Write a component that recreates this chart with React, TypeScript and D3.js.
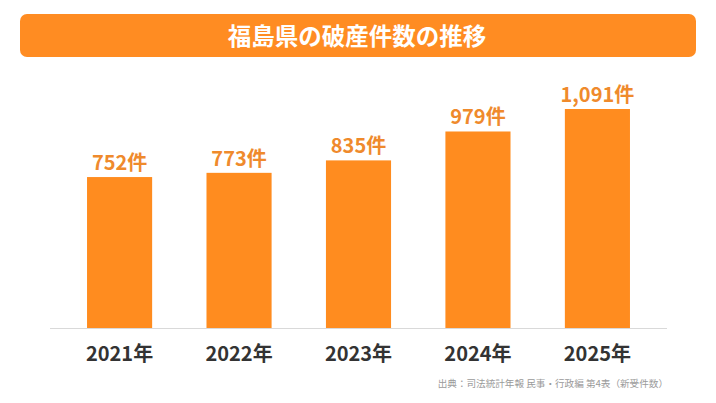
import React from 'react';
import * as d3 from 'd3';

const years = ['2021年', '2022年', '2023年', '2024年', '2025年'];
const counts = [752, 773, 835, 979, 1091];
const titleText = '福島県の破産件数の推移';
const sourceText = '出典：司法統計年報 民事・行政編 第4表（新受件数）';

const W = 716;
const H = 403;
const FONT = '"Noto Sans CJK JP", "Noto Sans", sans-serif';

const App: React.FC = () => {
  const x = d3.scaleBand<string>()
    .domain(years)
    .range([50, 667])
    .paddingInner(0.455)
    .paddingOuter(0.31);

  const y = d3.scaleLinear()
    .domain([0, 1100])
    .range([328, 107.2]);

  const fmt = d3.format(',');

  return (
    <svg
      width={W}
      height={H}
      viewBox={`0 0 ${W} ${H}`}
      style={{ position: 'absolute', left: 0, top: 0, display: 'block', background: '#fff' }}
    >
      {/* title banner */}
      <rect x={20} y={14} width={676} height={43} rx={7} fill="#ff8c22" />
      <text
        x={357}
        y={44.5}
        textAnchor="middle"
        fill="#fff"
        fontFamily={FONT}
        fontWeight={700}
        fontSize={23.5}
      >
        {titleText}
      </text>

      {/* bars */}
      {counts.map((v, i) => (
        <g key={years[i]}>
          <rect
            x={x(years[i])}
            y={y(v)}
            width={x.bandwidth()}
            height={y(0) - y(v)}
            fill="#ff8c1f"
          />
          <text
            x={(x(years[i]) ?? 0) + x.bandwidth() / 2}
            y={y(v) - 7}
            textAnchor="middle"
            fill="#ef8a2c"
            fontFamily={FONT}
            fontWeight={700}
            fontSize={20}
          >
            {fmt(v)}件
          </text>
        </g>
      ))}

      {/* baseline */}
      <line x1={50} x2={667} y1={y(0) + 0.5} y2={y(0) + 0.5} stroke="#d9d9d9" strokeWidth={1} />

      {/* category labels */}
      {years.map(yr => (
        <text
          key={yr}
          x={(x(yr) ?? 0) + x.bandwidth() / 2}
          y={361}
          textAnchor="middle"
          fill="#333"
          fontFamily={FONT}
          fontWeight={700}
          fontSize={20}
        >
          {yr}
        </text>
      ))}

      {/* source */}
      <text
        x={668}
        y={387}
        textAnchor="end"
        fill="#9a9a9a"
        fontFamily={FONT}
        fontSize={9.6}
      >
        {sourceText}
      </text>
    </svg>
  );
};

export default App;
